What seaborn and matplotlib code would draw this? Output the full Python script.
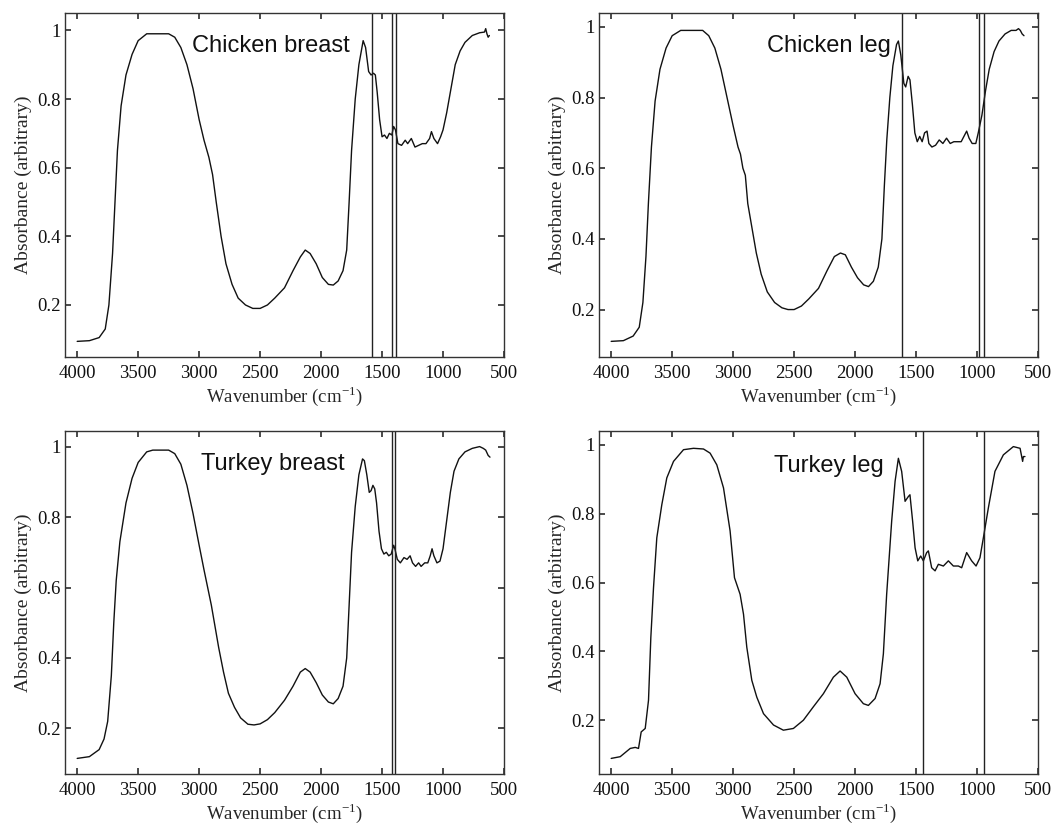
import numpy as np
import pandas as pd
import matplotlib
matplotlib.use("Agg")
import matplotlib.pyplot as plt
import seaborn as sns
from matplotlib.ticker import FuncFormatter

# ---------------- data ----------------
titles = ["Chicken breast", "Chicken leg", "Turkey breast", "Turkey leg"]

cb_wn = [4000, 3900, 3820, 3770, 3740, 3710, 3690, 3670, 3640, 3600, 3550, 3500, 3430, 3250, 3200, 3150,
         3100, 3050, 3000, 2960, 2920, 2890, 2860, 2820, 2780, 2730, 2680, 2620, 2560, 2500, 2440, 2380,
         2300, 2230, 2170, 2130, 2090, 2040, 1990, 1940, 1900, 1860, 1820, 1790, 1770, 1750, 1720, 1690,
         1655, 1635, 1610, 1590, 1570, 1555, 1540, 1520, 1500, 1480, 1460, 1440, 1420, 1405, 1390, 1370,
         1340, 1310, 1290, 1260, 1230, 1200, 1170, 1140, 1110, 1095, 1075, 1045, 1020, 1000, 970, 950,
         920, 900, 860, 820, 760, 700, 660, 650, 640, 630, 620]
cb_abs = [0.094, 0.096, 0.105, 0.13, 0.2, 0.35, 0.5, 0.65, 0.78, 0.87, 0.93, 0.97, 0.99, 0.99, 0.98, 0.95,
          0.9, 0.83, 0.74, 0.68, 0.63, 0.58, 0.5, 0.4, 0.32, 0.26, 0.22, 0.2, 0.19, 0.19, 0.2, 0.22,
          0.25, 0.3, 0.34, 0.36, 0.35, 0.32, 0.28, 0.26, 0.258, 0.27, 0.3, 0.36, 0.5, 0.65, 0.8, 0.9,
          0.97, 0.95, 0.88, 0.87, 0.875, 0.87, 0.82, 0.74, 0.69, 0.695, 0.685, 0.7, 0.695, 0.72, 0.71, 0.67,
          0.665, 0.68, 0.67, 0.685, 0.66, 0.665, 0.67, 0.67, 0.685, 0.705, 0.685, 0.67, 0.69, 0.71, 0.76, 0.8,
          0.86, 0.9, 0.94, 0.965, 0.985, 0.993, 0.995, 1.005, 0.99, 0.98, 0.985]

cl_wn = [4000, 3900, 3820, 3770, 3740, 3715, 3695, 3670, 3640, 3600, 3550, 3500, 3430, 3250, 3200, 3150,
         3100, 3050, 3000, 2960, 2940, 2920, 2900, 2880, 2850, 2810, 2770, 2720, 2660, 2600, 2550, 2500,
         2440, 2380, 2300, 2230, 2170, 2120, 2080, 2030, 1980, 1930, 1890, 1850, 1810, 1780, 1760, 1740,
         1715, 1690, 1660, 1645, 1625, 1600, 1585, 1565, 1550, 1530, 1510, 1490, 1470, 1450, 1430, 1410,
         1395, 1370, 1340, 1310, 1280, 1250, 1220, 1190, 1160, 1130, 1100, 1085, 1065, 1040, 1010, 990,
         960, 930, 900, 860, 820, 770, 720, 680, 660, 645, 630, 615]
cl_abs = [0.11, 0.112, 0.125, 0.15, 0.22, 0.35, 0.5, 0.66, 0.79, 0.88, 0.94, 0.975, 0.99, 0.99, 0.975, 0.94,
          0.88, 0.8, 0.72, 0.66, 0.64, 0.6, 0.58, 0.5, 0.44, 0.36, 0.3, 0.25, 0.22, 0.205, 0.2, 0.2,
          0.21, 0.23, 0.26, 0.31, 0.35, 0.36, 0.355, 0.32, 0.29, 0.27, 0.265, 0.28, 0.32, 0.4, 0.55, 0.68,
          0.8, 0.89, 0.95, 0.96, 0.92, 0.84, 0.83, 0.86, 0.85, 0.78, 0.7, 0.675, 0.69, 0.675, 0.7, 0.705,
          0.67, 0.66, 0.665, 0.68, 0.67, 0.685, 0.67, 0.675, 0.675, 0.675, 0.695, 0.705, 0.685, 0.67, 0.67, 0.7,
          0.75, 0.82, 0.88, 0.93, 0.96, 0.98, 0.99, 0.99, 0.995, 0.99, 0.98, 0.975]

tb_wn = [4000, 3900, 3820, 3780, 3750, 3720, 3700, 3680, 3650, 3600, 3550, 3500, 3430, 3380, 3250, 3200,
         3150, 3100, 3050, 3000, 2960, 2930, 2900, 2870, 2840, 2800, 2760, 2710, 2660, 2600, 2550, 2500,
         2440, 2380, 2300, 2230, 2170, 2130, 2090, 2040, 1990, 1940, 1900, 1860, 1820, 1790, 1770, 1750,
         1720, 1690, 1660, 1645, 1625, 1605, 1590, 1575, 1560, 1545, 1525, 1505, 1485, 1465, 1445, 1425,
         1405, 1395, 1375, 1350, 1320, 1295, 1270, 1250, 1225, 1200, 1180, 1150, 1125, 1105, 1090, 1075,
         1050, 1025, 1000, 970, 940, 910, 870, 820, 760, 700, 670, 650, 630, 615]
tb_abs = [0.115, 0.12, 0.14, 0.17, 0.22, 0.35, 0.5, 0.62, 0.73, 0.84, 0.91, 0.955, 0.985, 0.99, 0.99, 0.98,
          0.95, 0.89, 0.81, 0.72, 0.65, 0.6, 0.55, 0.49, 0.43, 0.36, 0.3, 0.26, 0.23, 0.212, 0.21, 0.213,
          0.225, 0.245, 0.28, 0.32, 0.36, 0.37, 0.36, 0.33, 0.295, 0.275, 0.27, 0.285, 0.32, 0.4, 0.55, 0.7,
          0.83, 0.92, 0.965, 0.96, 0.92, 0.87, 0.875, 0.89, 0.88, 0.84, 0.76, 0.71, 0.695, 0.7, 0.69, 0.695,
          0.72, 0.71, 0.68, 0.67, 0.685, 0.68, 0.69, 0.67, 0.66, 0.67, 0.66, 0.67, 0.67, 0.69, 0.71, 0.69,
          0.67, 0.675, 0.71, 0.79, 0.87, 0.93, 0.965, 0.985, 0.995, 1.0, 0.995, 0.99, 0.975, 0.97]

tl_wn = [4000, 3926, 3844, 3803, 3776, 3754, 3721, 3694, 3675, 3653, 3626, 3585, 3544, 3489, 3407, 3325,
         3243, 3189, 3134, 3079, 3025, 2989, 2943, 2915, 2888, 2847, 2806, 2751, 2669, 2588, 2506, 2424,
         2342, 2260, 2178, 2123, 2068, 2000, 1932, 1891, 1836, 1795, 1768, 1741, 1700, 1672, 1645, 1618,
         1590, 1563, 1550, 1528, 1508, 1486, 1462, 1440, 1413, 1399, 1372, 1344, 1317, 1276, 1235, 1194,
         1153, 1126, 1085, 1044, 1008, 976, 948, 907, 853, 784, 702, 647, 626, 620, 607]
tl_abs = [0.089, 0.094, 0.118, 0.121, 0.118, 0.166, 0.176, 0.258, 0.44, 0.585, 0.73, 0.826, 0.904, 0.952, 0.986, 0.99,
          0.988, 0.976, 0.942, 0.875, 0.75, 0.614, 0.566, 0.508, 0.412, 0.316, 0.267, 0.219, 0.186, 0.171, 0.176, 0.2,
          0.239, 0.277, 0.325, 0.343, 0.325, 0.277, 0.248, 0.243, 0.263, 0.306, 0.393, 0.566, 0.778, 0.894, 0.961, 0.923,
          0.836, 0.85, 0.855, 0.778, 0.701, 0.663, 0.677, 0.663, 0.687, 0.692, 0.643, 0.634, 0.653, 0.648, 0.663, 0.648,
          0.648, 0.643, 0.687, 0.663, 0.648, 0.672, 0.73, 0.817, 0.923, 0.971, 0.995, 0.99, 0.952, 0.966, 0.966]

cb_lines = [1582, 1418, 1385]
cl_lines = [1615, 984, 945]
tb_lines = [1418, 1391]
tl_lines = [1440, 943]

xticks = [4000, 3500, 3000, 2500, 2000, 1500, 1000, 500]
yticks = [0.2, 0.4, 0.6, 0.8, 1.0]

panels = [
    (titles[0], cb_wn, cb_abs, cb_lines),
    (titles[1], cl_wn, cl_abs, cl_lines),
    (titles[2], tb_wn, tb_abs, tb_lines),
    (titles[3], tl_wn, tl_abs, tl_lines),
]

# ---------------- style ----------------
sns.set_theme(style="ticks")
plt.rcParams.update({
    "font.family": ["Liberation Serif", "DejaVu Serif"],
    "mathtext.fontset": "custom",
    "mathtext.rm": "Liberation Serif",
    "xtick.direction": "in",
    "ytick.direction": "in",
    "xtick.top": True,
    "ytick.right": True,
    "axes.edgecolor": "#333333",
    "axes.linewidth": 1.0,
    "xtick.color": "#333333",
    "ytick.color": "#333333",
    "xtick.labelcolor": "#111111",
    "ytick.labelcolor": "#111111",
    "xtick.major.size": 4,
    "ytick.major.size": 4,
    "xtick.major.pad": 6,
    "ytick.major.pad": 3,
})

fig = plt.figure(figsize=(10.54, 8.26), dpi=100)
W, H = 1054, 826
pos = [
    (65, 13, 504, 357),
    (599, 13, 1038, 357),
    (65, 431, 504, 774),
    (599, 431, 1038, 774),
]

text_pos = [(0.469, 0.905), (0.524, 0.905), (0.474, 0.905), (0.524, 0.898)]

for i, ((title, wn, ab, vlines), (l, t, r, b)) in enumerate(zip(panels, pos)):
    ax = fig.add_axes([l / W, 1 - b / H, (r - l) / W, (b - t) / H])
    df = pd.DataFrame({"wn": wn, "abs": ab})
    sns.lineplot(data=df, x="wn", y="abs", ax=ax, color="#111111", linewidth=1.0,
                 sort=False, estimator=None)
    ax.margins(y=0.05)
    ax.set_xlim(4100, 500)
    for v in vlines:
        ax.axvline(v, color="#222222", linewidth=1.0)
    ax.set_xticks(xticks)
    ax.set_yticks(yticks)
    ax.yaxis.set_major_formatter(FuncFormatter(lambda v, p: f"{v:g}"))
    ax.tick_params(labelsize=13.5)
    ax.set_xlabel(r"Wavenumber (cm$^{\mathregular{-1}}$)", fontsize=13.5, labelpad=1)
    ax.set_ylabel("Absorbance (arbitrary)", fontsize=14, labelpad=4)
    ax.text(text_pos[i][0], text_pos[i][1], title, transform=ax.transAxes,
            ha="center", va="center", fontsize=17, family=["Liberation Sans", "DejaVu Sans"],
            color="#111111")
    for s in ax.spines.values():
        s.set_visible(True)

fig.savefig("out.png", dpi=100)
